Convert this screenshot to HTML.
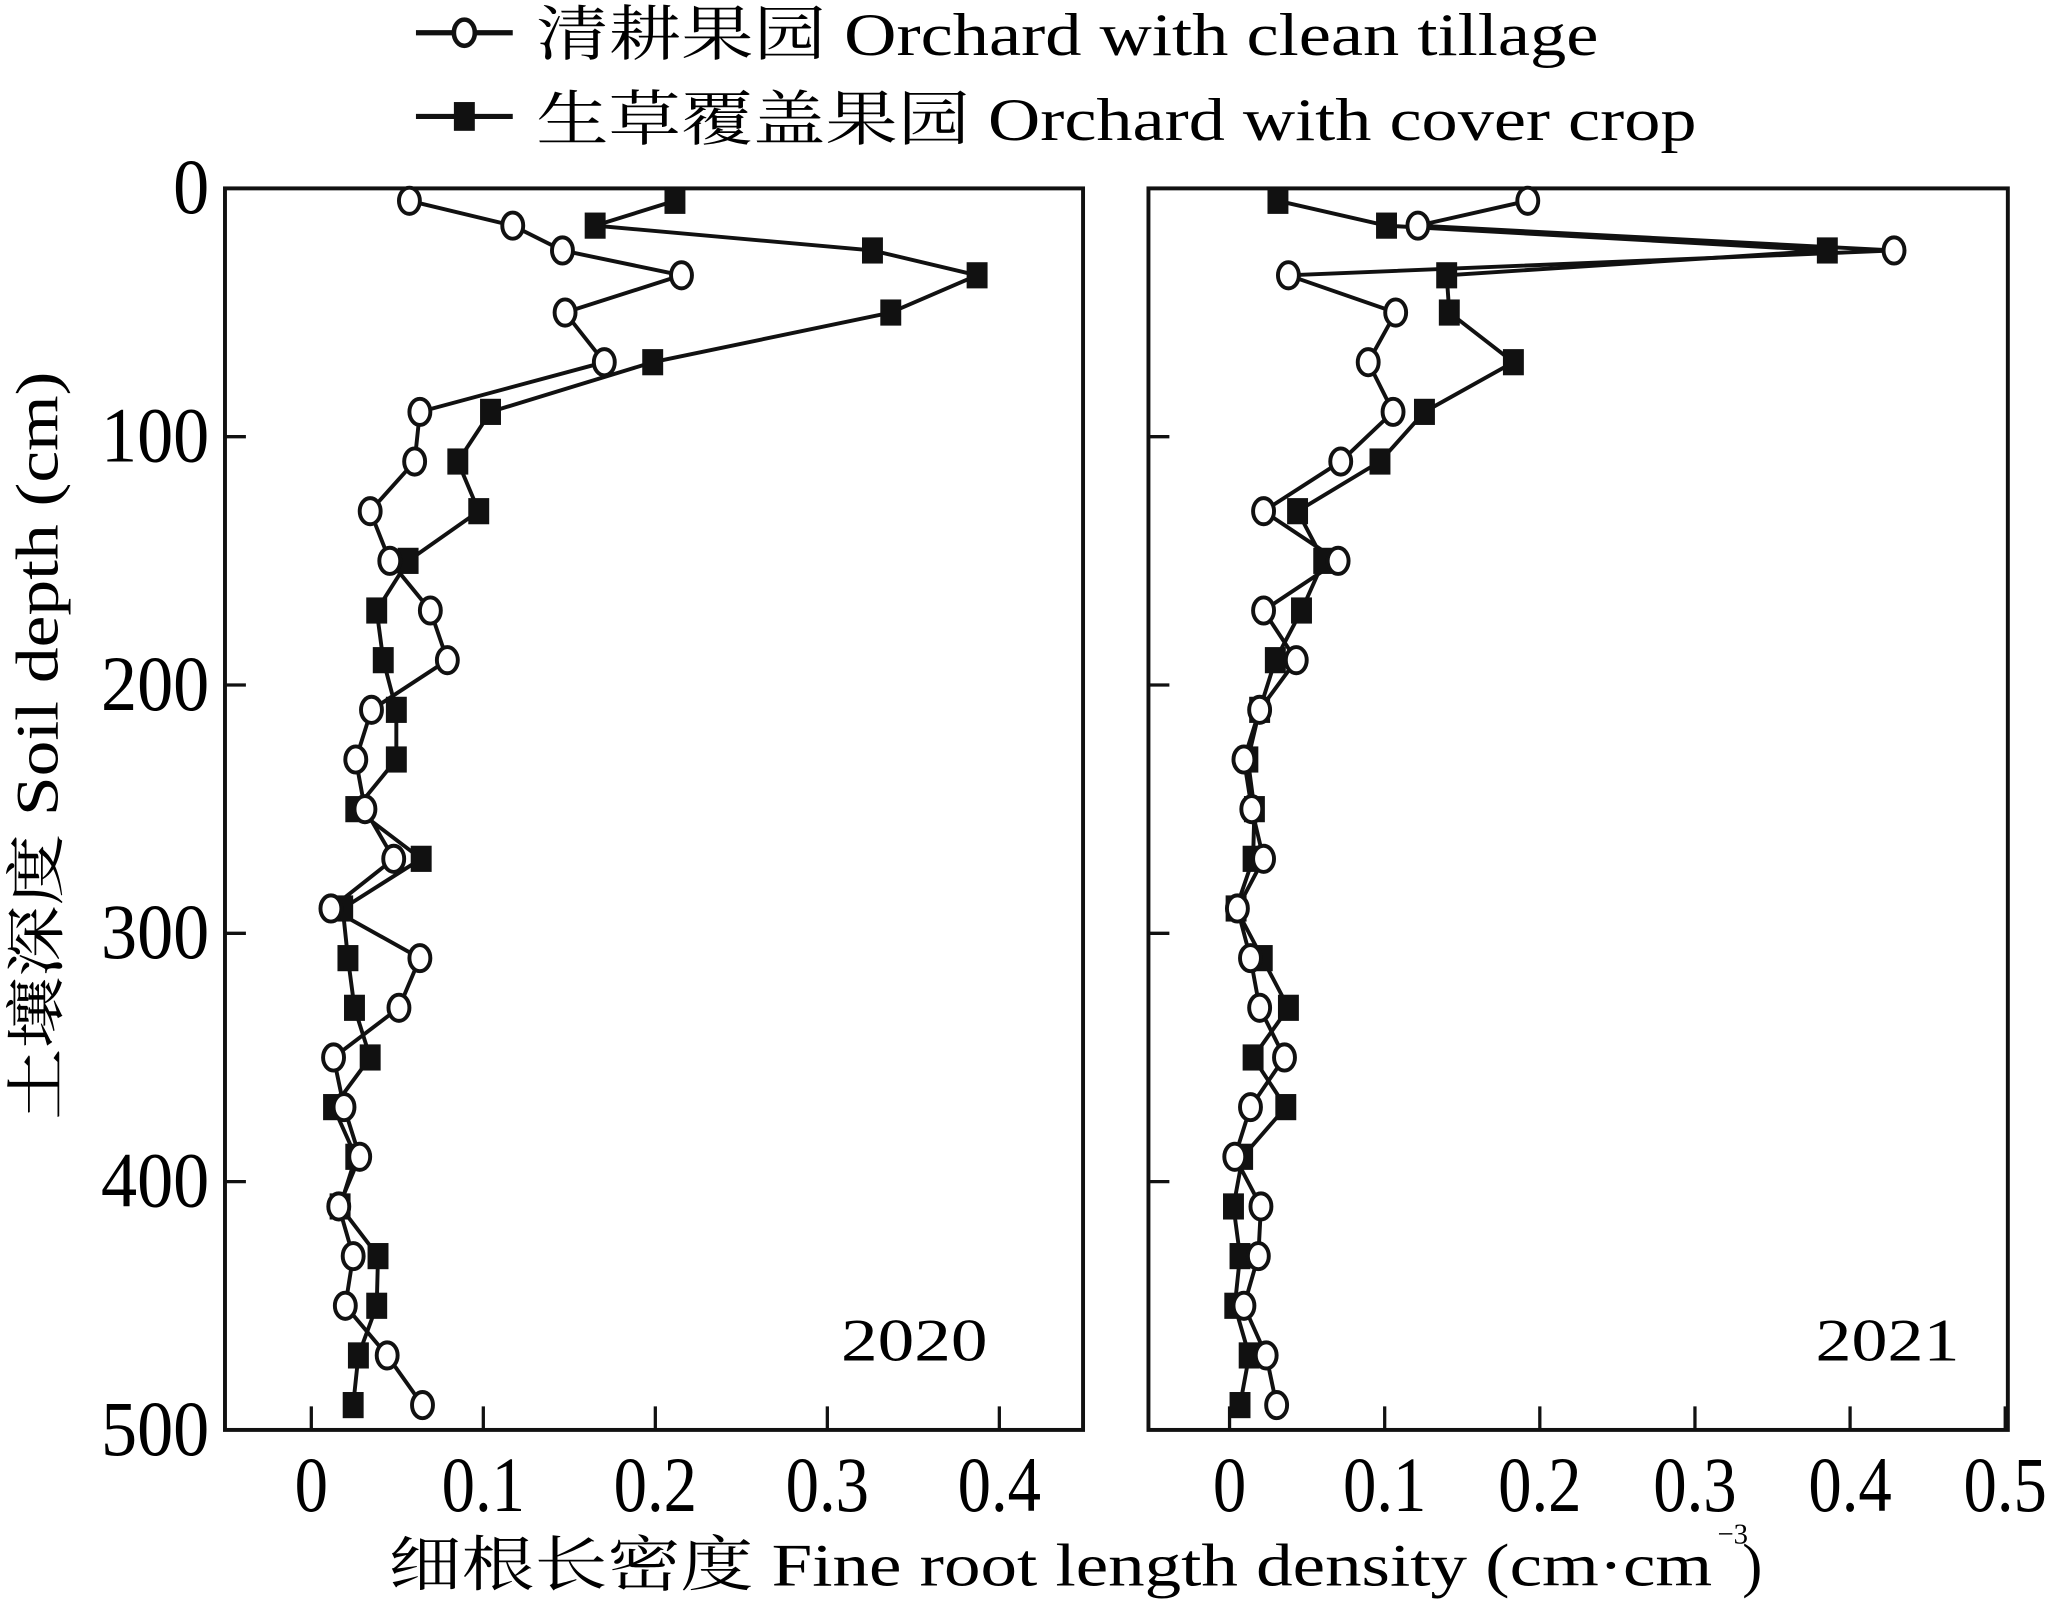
<!DOCTYPE html>
<html><head><meta charset="utf-8"><style>html,body{margin:0;padding:0;background:#fff}svg{display:block}</style></head>
<body>
<svg id="s" xmlns="http://www.w3.org/2000/svg" width="2051" height="1600" viewBox="0 0 1568 1223" preserveAspectRatio="none" font-family="'Liberation Serif','Noto Serif CJK SC',serif">
<rect width="1568" height="1223" fill="#fff"/>
<g id="g"></g>
<!-- legend -->
<line x1="318" y1="25" x2="392" y2="25" stroke="#111" stroke-width="4"/>
<ellipse cx="355" cy="25" rx="8" ry="10" fill="#fff" stroke="#111" stroke-width="3.5"/>
<text x="410" y="42" font-size="46" textLength="812" lengthAdjust="spacingAndGlyphs">清耕果园 Orchard with clean tillage</text>
<line x1="318" y1="89" x2="392" y2="89" stroke="#111" stroke-width="4"/>
<rect x="347" y="78" width="16" height="22" fill="#111"/>
<text x="410" y="107" font-size="46" textLength="887" lengthAdjust="spacingAndGlyphs">生草覆盖果园 Orchard with cover crop</text>
<!-- axis titles -->
<text transform="translate(44,856) rotate(-90)" font-size="46" textLength="572" lengthAdjust="spacingAndGlyphs">土壤深度 Soil depth (cm)</text>
<text x="297" y="1212" font-size="46" textLength="1012" lengthAdjust="spacingAndGlyphs">细根长密度 Fine root length density (cm·cm</text>
<text x="1313" y="1180" font-size="22">−3</text>
<text x="1332" y="1212" font-size="46">)</text>
<text x="643" y="1040" font-size="46" textLength="112" lengthAdjust="spacingAndGlyphs">2020</text>
<text x="1388" y="1040" font-size="46" textLength="110" lengthAdjust="spacingAndGlyphs">2021</text>
</svg>
<script>
const g=document.getElementById('g');let h='';
const Y=d=>144+d*1.898;
const depths=[5,15,25,35,50,70,90,110,130,150,170,190,210,230,250,270,290,310,330,350,370,390,410,430,450,470,490];
function panel(x0,x1,zero,unit,ticks,lc,ls){
 h+=`<rect x="${x0}" y="144" width="${x1-x0}" height="949" fill="none" stroke="#111" stroke-width="3"/>`;
 ticks.forEach(t=>{const x=zero+t*unit;h+=`<line x1="${x}" y1="1093" x2="${x}" y2="1075" stroke="#111" stroke-width="2.5"/>`;
  const lab=t==0?'0':t.toFixed(1);
  h+=`<text x="${x}" y="1155" font-size="60" text-anchor="middle" transform="translate(${x},0) scale(0.85,1) translate(${-x},0)">${lab}</text>`;});
 [100,200,300,400].forEach(d=>{h+=`<line x1="${x0}" y1="${Y(d)}" x2="${x0+16}" y2="${Y(d)}" stroke="#111" stroke-width="2.5"/>`});
 const pc=lc.map((x,i)=>x+','+Y(depths[i])).join(' ');
 const ps=ls.map((x,i)=>x+','+Y(depths[i])).join(' ');
 h+=`<polyline points="${pc}" fill="none" stroke="#111" stroke-width="3"/>`;
 h+=`<polyline points="${ps}" fill="none" stroke="#111" stroke-width="3"/>`;
 ls.forEach((x,i)=>{h+=`<rect x="${x-8}" y="${Y(depths[i])-10}" width="16" height="20" fill="#111"/>`});
 lc.forEach((x,i)=>{h+=`<ellipse cx="${x}" cy="${Y(depths[i])}" rx="8" ry="10" fill="#fff" stroke="#111" stroke-width="3"/>`});
}
panel(172,828,238,1315,[0,0.1,0.2,0.3,0.4],
[313,392,430,521,432,462,321,317,283,298,329,342,284,272,279,301,253,321,305,255,263,275,259,270,264,296,323],
[516,455,667,747,681,499,375,350,366,312,288,293,303,303,272,322,262,266,271,283,255,272,260,289,288,274,270]);
panel(878,1535,940,1186,[0,0.1,0.2,0.3,0.4,0.5],
[1168,1084,1448,985,1067,1046,1065,1025,966,1023,966,991,963,951,957,966,946,956,963,982,956,944,964,962,951,968,976],
[977,1060,1397,1106,1108,1157,1089,1055,992,1012,995,975,963,954,959,958,945,965,985,958,983,950,943,948,944,955,948]);
[0,100,200,300,400,500].forEach(v=>{const y=Y(v)+19;
 h+=`<text x="160" y="${y}" font-size="60" text-anchor="end" transform="translate(160,0) scale(0.92,1) translate(-160,0)">${v}</text>`;});
g.innerHTML=h;
</script>
</body></html>
